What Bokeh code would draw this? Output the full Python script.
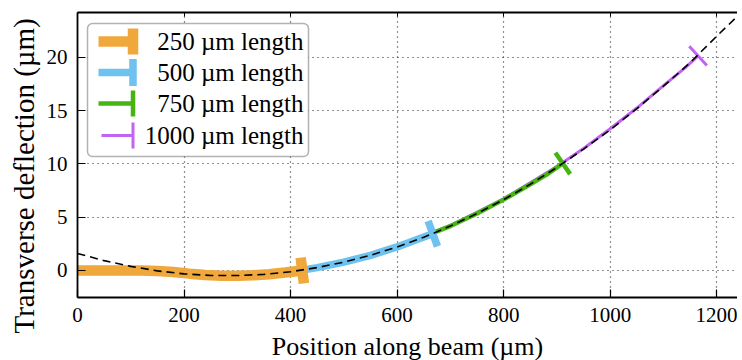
import math
from bokeh.plotting import figure
from bokeh.models import (Range1d, LinearAxis, FixedTicker, BoxAnnotation, Label, Title)
from bokeh.embed import file_html
from bokeh.resources import INLINE

# ---------------- data ----------------
x_ticks = [0, 200, 400, 600, 800, 1000, 1200]
y_ticks = [0, 5, 10, 15, 20]

legend_labels = ["250 \u00b5m length", "500 \u00b5m length",
                 "750 \u00b5m length", "1000 \u00b5m length"]
colors = ["#F0A73C", "#6EC2F0", "#46B512", "#C264F2"]

x_250 = [0, 40, 80, 120, 150, 180, 210, 240, 270, 300, 330, 360, 390, 422]
y_250 = [0.0, 0.0, 0.0, 0.0, -0.05, -0.15, -0.3, -0.42, -0.5, -0.5, -0.45, -0.35, -0.2, 0.0]

x_500 = [422, 450, 500, 550, 600, 640, 667]
y_500 = [0.03, 0.27, 0.78, 1.42, 2.21, 2.95, 3.45]

x_750 = [422, 500, 600, 700, 750, 800, 850, 880, 911]
y_750 = [0.03, 0.78, 2.21, 4.17, 5.34, 6.65, 8.09, 8.98, 10.05]

x_1000 = [422, 500, 600, 700, 800, 900, 950, 1000, 1050, 1100, 1140, 1165]
y_1000 = [0.03, 0.8, 2.25, 4.22, 6.72, 9.75, 11.45, 13.3, 15.25, 17.35, 19.0, 20.15]

x_fit = [0, 50, 100, 150, 200, 250, 300, 350, 400, 450, 500, 550, 600, 650,
         700, 750, 800, 850, 900, 950, 1000, 1050, 1100, 1150, 1200, 1250]
y_fit = [1.6, 0.92, 0.38, -0.04, -0.32, -0.47, -0.48, -0.37, -0.12, 0.27, 0.78,
         1.42, 2.21, 3.11, 4.17, 5.34, 6.65, 8.09, 9.67, 11.4, 13.2, 15.2, 17.3,
         19.5, 22.0, 24.4]

x_title = "Position along beam (\u00b5m)"
y_title = "Transverse deflection (\u00b5m)"

# ---------------- styling ----------------
FONT = "Liberation Serif"
X0, X1 = 0, 1239
Y0, Y1 = -2.54, 24.22
FW, FH = 660, 285

line_widths = [10.5, 7.5, 4.5, 3.0]
tick_lens = [26, 27, 26, 26]

p = figure(frame_width=FW, frame_height=FH, output_backend="svg",
           toolbar_location=None, x_range=Range1d(X0, X1), y_range=Range1d(Y0, Y1),
           min_border_left=77, min_border_right=0, min_border_top=12,
           min_border_bottom=50)
p.outline_line_color = None
p.background_fill_color = "white"

# axes
for ax in (p.xaxis[0], p.yaxis[0]):
    ax.major_tick_in = 8
    ax.major_tick_out = 0
    ax.minor_tick_line_color = None
    ax.axis_line_width = 1.8
    ax.axis_line_color = "black"
    ax.major_tick_line_color = "black"
    ax.major_tick_line_width = 1.2
    ax.major_label_text_font = FONT
    ax.major_label_text_font_size = "21px"
    ax.major_label_text_color = "black"
    ax.axis_label_text_font = FONT
    ax.axis_label_text_font_size = "26px"
    ax.axis_label_text_font_style = "normal"
    ax.axis_label_text_color = "black"

p.xaxis.ticker = FixedTicker(ticks=x_ticks)
p.yaxis.ticker = FixedTicker(ticks=y_ticks)
p.xaxis.axis_label = x_title
p.xaxis.major_label_standoff = 10
p.yaxis.major_label_standoff = 10
p.xaxis.axis_label_standoff = 7

top_ax = LinearAxis(ticker=FixedTicker(ticks=x_ticks), major_tick_in=4,
                    major_tick_out=0, minor_tick_line_color=None,
                    axis_line_width=1.8, major_label_text_font_size="0px",
                    major_label_standoff=0, major_label_text_alpha=0)
p.add_layout(top_ax, "above")

# y axis title (reference places it lower than the frame centre)
p.add_layout(Title(text=y_title, align="left", offset=-36, standoff=7,
                   text_font=FONT, text_font_size="29px",
                   text_font_style="normal", text_color="black"), "left")

# grid
for g in (p.xgrid[0], p.ygrid[0]):
    g.grid_line_color = "#222222"
    g.grid_line_dash = "1 4"
    g.grid_line_width = 1.2
p.xgrid.ticker = FixedTicker(ticks=x_ticks)
p.ygrid.ticker = FixedTicker(ticks=y_ticks)

# curves (thin underneath, thick on top)
series = [(x_250, y_250), (x_500, y_500), (x_750, y_750), (x_1000, y_1000)]
kx = FW / (X1 - X0)
ky = FH / (Y1 - Y0)
for i in [3, 2, 1, 0]:
    xs, ys = series[i]
    p.line(xs, ys, line_color=colors[i], line_width=line_widths[i])
for i in [3, 2, 1, 0]:
    xs, ys = series[i]
    ang = math.atan2((ys[-1] - ys[-2]) * ky, (xs[-1] - xs[-2]) * kx) + math.pi / 2
    p.scatter([xs[-1]], [ys[-1]], marker="dash", size=tick_lens[i], angle=ang,
              line_color=colors[i], line_width=line_widths[i])

p.line(x_fit, y_fit, line_color="black", line_width=1.6, line_dash="8 5")

# manual legend (screen units, relative to frame, y up from frame bottom)
p.add_layout(BoxAnnotation(left=10, right=231, bottom=141, top=274,
                           left_units="screen", right_units="screen",
                           bottom_units="screen", top_units="screen",
                           fill_color="white", fill_alpha=1.0,
                           line_color="black", line_width=1.5, border_radius=5))
row_y = [256, 225, 194, 162]
line_left = [21, 21, 21, 24]
bar_cx = 55.5
for i in range(4):
    w = line_widths[i]
    yc = row_y[i]
    p.add_layout(BoxAnnotation(left=line_left[i], right=bar_cx,
                               bottom=yc - w / 2, top=yc + w / 2,
                               left_units="screen", right_units="screen",
                               bottom_units="screen", top_units="screen",
                               fill_color=colors[i], fill_alpha=1.0, line_color=None))
    p.add_layout(BoxAnnotation(left=bar_cx - w / 2, right=bar_cx + w / 2,
                               bottom=yc - tick_lens[i] / 2, top=yc + tick_lens[i] / 2,
                               left_units="screen", right_units="screen",
                               bottom_units="screen", top_units="screen",
                               fill_color=colors[i], fill_alpha=1.0, line_color=None))
    p.add_layout(Label(x=226, y=yc, x_units="screen", y_units="screen",
                       text=legend_labels[i], text_align="right",
                       text_baseline="middle", text_font=FONT,
                       text_font_size="25px", text_color="black"))

open("out.html", "w").write(file_html(p, INLINE))
